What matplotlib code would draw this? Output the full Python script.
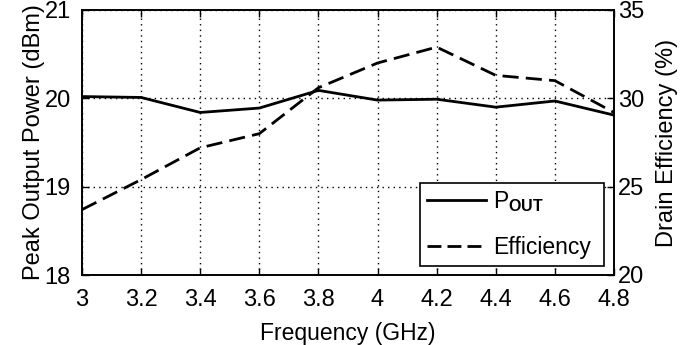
import matplotlib
matplotlib.use("Agg")
import matplotlib.pyplot as plt
from matplotlib.lines import Line2D

freq = [3.0, 3.2, 3.4, 3.6, 3.8, 4.0, 4.2, 4.4, 4.6, 4.8]
pout = [20.02, 20.01, 19.84, 19.89, 20.09, 19.98, 19.99, 19.9, 19.97, 19.81]
eff = [23.7, 25.4, 27.2, 28.0, 30.6, 32.0, 32.9, 31.3, 31.0, 29.2]

xticks = [3, 3.2, 3.4, 3.6, 3.8, 4, 4.2, 4.4, 4.6, 4.8]
xticklabels = ["3", "3.2", "3.4", "3.6", "3.8", "4", "4.2", "4.4", "4.6", "4.8"]
yl_ticks = [18, 19, 20, 21]
yr_ticks = [20, 25, 30, 35]

plt.rcParams['font.family'] = ['Liberation Sans', 'DejaVu Sans']
plt.rcParams['mathtext.fontset'] = 'custom'
plt.rcParams['mathtext.rm'] = 'Liberation Sans'
plt.rcParams['mathtext.bf'] = 'Liberation Sans:bold'

fig = plt.figure(figsize=(6.94, 3.45), dpi=100)
ax = fig.add_axes([82/694, 1 - 275/345, (614-82)/694, (275-10)/345])
ax2 = ax.twinx()

dash = (0, (5.8, 2.6))
ax.plot(freq, pout, color='black', lw=2.0, ls='-')
ax2.plot(freq, eff, color='black', lw=2.0, ls=dash)

ax.set_xlim(3, 4.8)
ax.set_ylim(18, 21)
ax2.set_ylim(20, 35)
ax.set_xticks(xticks)
ax.set_xticklabels(xticklabels)
ax.set_yticks(yl_ticks)
ax2.set_yticks(yr_ticks)

ax.grid(True, color='black', ls=(0, (1, 3)), lw=1.0)
ax.tick_params(direction='in', length=5, width=1, labelsize=17, top=True)
ax.tick_params(axis='y', pad=8)
ax.tick_params(axis='x', pad=10)
ax2.tick_params(direction='in', length=5, width=1, labelsize=17, pad=3)
for a in (ax, ax2):
    for s in a.spines.values():
        s.set_linewidth(1.2)

ax.set_xlabel("Frequency (GHz)", fontsize=16.5, labelpad=8)
ax.set_ylabel("Peak Output Power (dBm)", fontsize=17, labelpad=0)
ax2.set_ylabel("Drain Efficiency (%)", fontsize=17, labelpad=8)

x0 = (420 - 82) / 532
x1 = (604 - 82) / 532
handles = [Line2D([0], [0], color='black', lw=2.0, ls='-'),
           Line2D([0], [0], color='black', lw=2.0, ls=(0, (5, 2.2)))]
leg = ax2.legend(handles, [r"P$_{\mathbf{OUT}}$", "Efficiency"], loc='lower left',
                 bbox_to_anchor=(x0, 9/265, x1 - x0, 0.3), mode='expand',
                 fontsize=16.5, frameon=True, fancybox=False,
                 edgecolor='black', handlelength=2.6, handletextpad=0.3,
                 borderpad=0.3, labelspacing=0.95, borderaxespad=0)
leg.get_frame().set_linewidth(1.2)
leg.get_frame().set_alpha(1)

fig.savefig("out.png", dpi=100)
